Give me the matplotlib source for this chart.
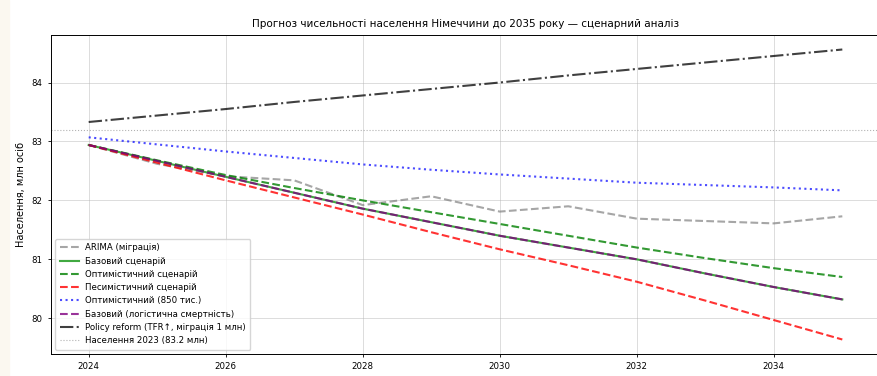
import matplotlib
matplotlib.use("Agg")
import matplotlib.pyplot as plt
from matplotlib.patches import Rectangle

years = list(range(2024, 2036))
arima = [82.94, 82.62, 82.41, 82.34, 81.92, 82.07, 81.81, 81.90, 81.69, 81.65, 81.61, 81.73]
base = [82.94, 82.67, 82.40, 82.13, 81.86, 81.63, 81.40, 81.20, 81.00, 80.76, 80.53, 80.32]
optimistic = [82.94, 82.68, 82.43, 82.21, 82.00, 81.80, 81.60, 81.40, 81.20, 81.02, 80.85, 80.70]
pessimistic = [82.94, 82.64, 82.34, 82.05, 81.76, 81.46, 81.17, 80.90, 80.62, 80.30, 79.97, 79.64]
opt850 = [83.07, 82.95, 82.83, 82.72, 82.61, 82.52, 82.44, 82.37, 82.30, 82.26, 82.22, 82.17]
base_logistic = [82.94, 82.67, 82.40, 82.13, 81.86, 81.63, 81.40, 81.20, 81.00, 80.76, 80.53, 80.32]
policy = [83.33, 83.44, 83.55, 83.67, 83.78, 83.89, 84.00, 84.12, 84.23, 84.34, 84.45, 84.56]
pop2023 = 83.2

labels = ["ARIMA (міграція)", "Базовий сценарій", "Оптимістичний сценарій",
          "Песимістичний сценарій", "Оптимістичний (850 тис.)",
          "Базовий (логістична смертність)", "Policy reform (TFR↑, міграція 1 млн)",
          "Населення 2023 (83.2 млн)"]
title = "Прогноз чисельності населення Німеччини до 2035 року — сценарний аналіз"

fig = plt.figure(figsize=(8.78, 3.76), dpi=100)
fig.patches.append(Rectangle((0, 0), 9 / 878, 1, transform=fig.transFigure,
                             color="#fbf8f0", zorder=-10))
ax = fig.add_axes([51 / 878, 22 / 376, 829 / 878, 319 / 376])

lw = 1.5
ax.plot(years, arima, "--", color="gray", alpha=0.7, lw=lw, label=labels[0])
ax.plot(years, base, "-", color="#2ca02c", lw=lw, alpha=0.9, label=labels[1])
ax.plot(years, optimistic, "--", color="green", lw=lw, alpha=0.8, label=labels[2])
ax.plot(years, pessimistic, "--", color="red", lw=lw, alpha=0.8, label=labels[3])
ax.plot(years, opt850, ":", color="blue", lw=lw, alpha=0.7, label=labels[4])
ax.plot(years, base_logistic, "--", color="purple", lw=lw, alpha=0.8, label=labels[5])
ax.plot(years, policy, "-.", color="black", lw=lw, alpha=0.75, label=labels[6])
ax.axhline(pop2023, color="gray", ls=":", lw=0.8, alpha=0.6, label=labels[7])

ax.set_xticks([2024, 2026, 2028, 2030, 2032, 2034])
ax.set_yticks([80, 81, 82, 83, 84])
ax.tick_params(labelsize=6.2, length=2.5, width=0.6)
ax.set_title(title, fontsize=7.5)
ax.set_xlabel("Рік", fontsize=6.5)
ax.set_ylabel("Населення, млн осіб", fontsize=7)
ax.grid(True, alpha=0.5, lw=0.6)
for s in ax.spines.values():
    s.set_linewidth(0.7)
ax.legend(loc="lower left", fontsize=6.2, frameon=True, handlelength=2.2,
          labelspacing=0.5, borderpad=0.5)

fig.savefig("out.png", dpi=100)
